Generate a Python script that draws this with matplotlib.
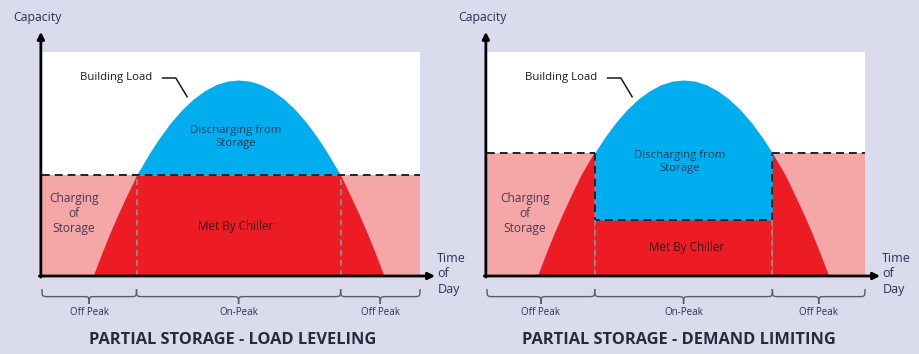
import numpy as np
import matplotlib
matplotlib.use("Agg")
import matplotlib.pyplot as plt
from matplotlib.path import Path
from matplotlib.patches import PathPatch
from matplotlib.transforms import blended_transform_factory

plt.rcParams['font.family'] = ['Open Sans', 'DejaVu Sans']

# building load profile over the day (time and capacity in % of chart span)
time_pts = [13.5, 16, 18, 20, 22, 25, 28.5, 31, 34, 37, 40, 43, 46, 49, 52,
            55, 58, 61, 64, 67, 70, 73, 75.5, 79, 82, 84, 86, 88, 90.5]
building_load = [0, 11.0, 19.3, 27.1, 34.4, 45.0, 55.0, 61.5, 68.4, 74.2, 79.0,
                 82.7, 85.4, 87.0, 87.5, 87.0, 85.4, 82.7, 79.0, 74.2, 68.4,
                 61.5, 55.0, 45.0, 34.4, 27.1, 19.3, 11.0, 0]

# load leveling: chiller runs flat out all day at this level
leveling_limit = 45.0
leveling_on_peak = (25, 79)

# demand limiting: chiller capped during on-peak hours
limiting_limit = 55.0
limiting_chiller = 25.0
limiting_on_peak = (28.5, 75.5)

titles = ["PARTIAL STORAGE - LOAD LEVELING", "PARTIAL STORAGE - DEMAND LIMITING"]
period_labels = ["Off Peak", "On-Peak", "Off Peak"]

BG = '#dadcee'
BLUE = '#00aeef'
RED = '#ed1c24'
PINK = '#f5a7a8'
NAVY = '#27314f'
GRAY = '#8a8a8a'
DASH = dict(color='#222222', lw=1.4, dashes=(4, 2.6))

t = np.array(time_pts)
load = np.array(building_load)


def brace(ax, x0, x1, label):
    tr = blended_transform_factory(ax.transData, ax.transAxes)
    yt, yb, ytip = -0.058, -0.092, -0.125
    m = (x0 + x1) / 2
    r = 1.8
    verts = [(x0, yt), (x0, yb), (x0, yb), (x0 + r, yb),
             (m - r, yb),
             (m, yb), (m, yb), (m, ytip),
             (m, yb), (m, yb), (m + r, yb),
             (x1 - r, yb),
             (x1, yb), (x1, yb), (x1, yt)]
    codes = [Path.MOVETO, Path.CURVE4, Path.CURVE4, Path.CURVE4,
             Path.LINETO,
             Path.CURVE4, Path.CURVE4, Path.CURVE4,
             Path.CURVE4, Path.CURVE4, Path.CURVE4,
             Path.LINETO,
             Path.CURVE4, Path.CURVE4, Path.CURVE4]
    ax.add_patch(PathPatch(Path(verts, codes), transform=tr, fill=False,
                           lw=1.0, edgecolor='#5a5d66', clip_on=False))
    ax.text(m, -0.14, label, transform=tr, ha='center', va='top',
            fontsize=7, color=NAVY)


def setup(ax, title, title_x):
    ax.set_xlim(0, 100)
    ax.set_ylim(0, 100)
    ax.set_facecolor('white')
    for s in ax.spines.values():
        s.set_visible(False)
    ax.set_xticks([])
    ax.set_yticks([])
    arrow = dict(arrowstyle='-|>', lw=2.0, color='black', mutation_scale=10,
                 shrinkA=0, shrinkB=0)
    ax.annotate('', xy=(-0.003, 1.09), xytext=(-0.003, -0.005),
                xycoords='axes fraction', arrowprops=arrow)
    ax.annotate('', xy=(1.04, 0), xytext=(-0.007, 0),
                xycoords='axes fraction', arrowprops=arrow)
    ax.text(-0.075, 1.155, "Capacity", transform=ax.transAxes, ha='left',
            va='center', fontsize=8.8, color=NAVY)
    ax.text(1.046, 0.01, "Time\nof\nDay", transform=ax.transAxes, ha='left',
            va='center', fontsize=9, color=NAVY, linespacing=1.25)
    ax.text(title_x, -0.285, title, transform=ax.transAxes, ha='center',
            va='center', fontsize=11.8, fontweight='bold', color='#262a3d')
    # building load call-out
    ax.text(0.10, 0.888, "Building Load", transform=ax.transAxes, ha='left',
            va='center', fontsize=8.2, color='#1a1a1a')
    ax.plot([31.9, 35.4, 38.4], [88.4, 88.4, 80.0], color='#1a1a1a', lw=1.1)


fig = plt.figure(figsize=(9.19, 3.54), dpi=100)
fig.patch.set_facecolor(BG)

# left: load leveling
ax1 = fig.add_axes([42 / 919, 78 / 354, 378 / 919, 224 / 354])
setup(ax1, titles[0], 0.503)
ax1.fill_between([0, 100], 0, leveling_limit, color=PINK, lw=0)
ax1.fill_between(t, 0, np.minimum(load, leveling_limit), color=RED, lw=0)
ax1.fill_between(t, leveling_limit, load, where=load >= leveling_limit,
                 color=BLUE, lw=0)
ax1.plot([0, 100], [leveling_limit, leveling_limit], **DASH)
for x in leveling_on_peak:
    ax1.plot([x, x], [0, leveling_limit], color=GRAY, lw=1.4, dashes=(3, 2.2))
ax1.text(51.3, 62, "Discharging from\nStorage", ha='center', va='center',
         fontsize=8.2, color='#173a5a', linespacing=1.2)
ax1.text(51.3, 21.9, "Met By Chiller", ha='center', va='center',
         fontsize=8.4, color='#3a1016')
ax1.text(8.5, 27.7, "Charging\nof\nStorage", ha='center', va='center',
         fontsize=8.6, color='#463a52', linespacing=1.2)
edges = [0, leveling_on_peak[0], leveling_on_peak[1], 100]
for i, lab in enumerate(period_labels):
    brace(ax1, edges[i], edges[i + 1], lab)

# right: demand limiting
ax2 = fig.add_axes([487 / 919, 78 / 354, 378 / 919, 224 / 354])
setup(ax2, titles[1], 0.507)
t0, t1 = limiting_on_peak
off = (t <= t0) | (t >= t1)
on = (t >= t0) & (t <= t1)
ax2.fill_between([0, 100], 0, limiting_limit, color=PINK, lw=0)
ax2.fill_between(t, 0, np.minimum(load, limiting_limit), where=off,
                 color=RED, lw=0)
ax2.fill_between([t0, t1], 0, limiting_chiller, color=RED, lw=0)
ax2.fill_between(t, limiting_chiller, load, where=on, color=BLUE, lw=0)
ax2.plot([0, t0], [limiting_limit, limiting_limit], **DASH)
ax2.plot([t1, 100], [limiting_limit, limiting_limit], **DASH)
ax2.plot([t0, t0, t1, t1], [limiting_limit, limiting_chiller, limiting_chiller,
                            limiting_limit], **DASH)
for x in limiting_on_peak:
    ax2.plot([x, x], [0, limiting_chiller], color=GRAY, lw=1.4, dashes=(3, 2.2))
ax2.text(51.1, 51, "Discharging from\nStorage", ha='center', va='center',
         fontsize=8.2, color='#173a5a', linespacing=1.2)
ax2.text(52.8, 12.9, "Met By Chiller", ha='center', va='center',
         fontsize=8.4, color='#3a1016')
ax2.text(10.1, 27.7, "Charging\nof\nStorage", ha='center', va='center',
         fontsize=8.6, color='#463a52', linespacing=1.2)
edges = [0, t0, t1, 100]
for i, lab in enumerate(period_labels):
    brace(ax2, edges[i], edges[i + 1], lab)

fig.savefig('out.png', dpi=100, facecolor=fig.get_facecolor())
